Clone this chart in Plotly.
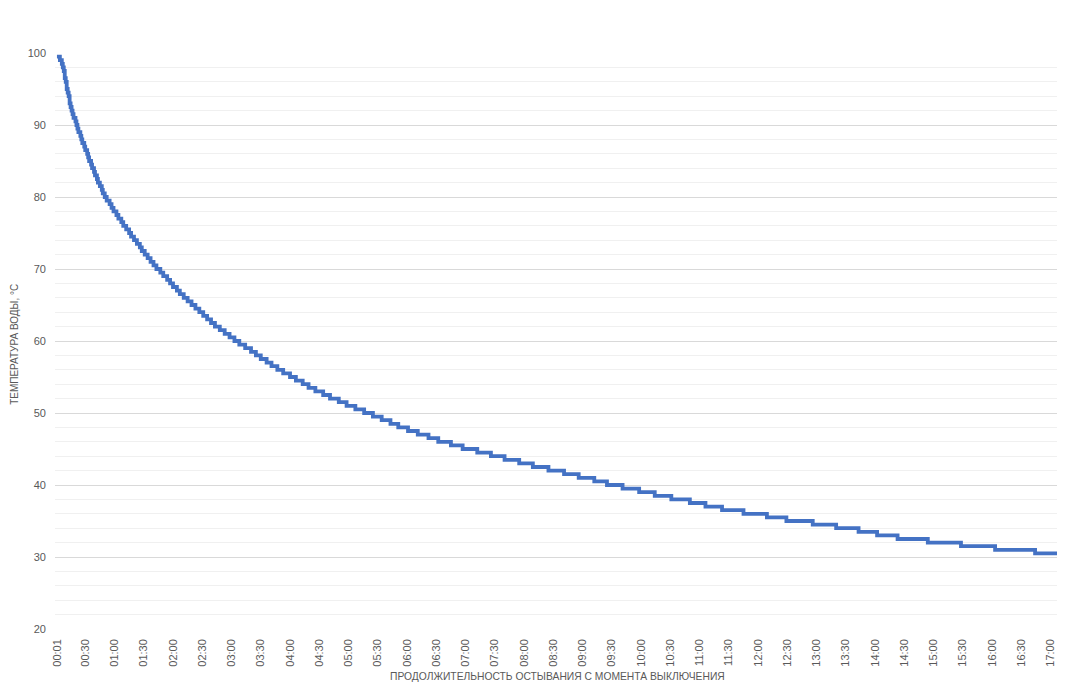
import plotly.graph_objects as go

# Minute (since 00:00) at which the recorded temperature changes, and the new value
minutes = [1, 4, 6, 7, 8, 9, 10, 11, 12, 13, 14, 15, 16, 17, 18, 20, 21, 22, 23, 25,
           26, 27, 29, 30, 32, 33, 34, 36, 37, 39, 40, 42, 43, 45, 47, 48, 50, 52, 55, 57,
           59, 62, 64, 67, 69, 72, 75, 77, 80, 83, 86, 88, 91, 94, 97, 100, 103, 107, 110, 114,
           117, 120, 124, 127, 131, 135, 139, 143, 147, 151, 155, 159, 163, 168, 173, 178, 183, 188, 194, 200,
           205, 210, 216, 221, 227, 233, 240, 246, 253, 259, 266, 274, 281, 290, 298, 307, 316, 325, 334, 343,
           351, 361, 371, 382, 392, 405, 417, 432, 446, 460, 475, 489, 505, 521, 536, 552, 565, 581, 598, 614,
           631, 650, 666, 683, 705, 729, 749, 776, 800, 823, 842, 863, 894, 928, 963, 1004, 1027]
temps = [99.5, 99.0, 98.5, 98.0, 97.5, 96.5, 96.0, 95.0, 94.5, 94.0, 93.0, 92.5, 92.0, 91.5, 91.0, 90.5, 90.0, 89.5, 89.0, 88.5,
         88.0, 87.5, 87.0, 86.5, 86.0, 85.5, 85.0, 84.5, 84.0, 83.5, 83.0, 82.5, 82.0, 81.5, 81.0, 80.5, 80.0, 79.5, 79.0, 78.5,
         78.0, 77.5, 77.0, 76.5, 76.0, 75.5, 75.0, 74.5, 74.0, 73.5, 73.0, 72.5, 72.0, 71.5, 71.0, 70.5, 70.0, 69.5, 69.0, 68.5,
         68.0, 67.5, 67.0, 66.5, 66.0, 65.5, 65.0, 64.5, 64.0, 63.5, 63.0, 62.5, 62.0, 61.5, 61.0, 60.5, 60.0, 59.5, 59.0, 58.5,
         58.0, 57.5, 57.0, 56.5, 56.0, 55.5, 55.0, 54.5, 54.0, 53.5, 53.0, 52.5, 52.0, 51.5, 51.0, 50.5, 50.0, 49.5, 49.0, 48.5,
         48.0, 47.5, 47.0, 46.5, 46.0, 45.5, 45.0, 44.5, 44.0, 43.5, 43.0, 42.5, 42.0, 41.5, 41.0, 40.5, 40.0, 39.5, 39.0, 38.5,
         38.0, 37.5, 37.0, 36.5, 36.0, 35.5, 35.0, 34.5, 34.0, 33.5, 33.0, 32.5, 32.0, 31.5, 31.0, 30.5, 30.5]

tick_minutes = [1, 30, 60, 90, 120, 150, 180, 210, 240, 270, 300, 330, 360, 390, 420, 450, 480, 510,
                540, 570, 600, 630, 660, 690, 720, 750, 780, 810, 840, 870, 900, 930, 960, 990, 1020]
tick_labels = ["00:01", "00:30", "01:00", "01:30", "02:00", "02:30", "03:00", "03:30", "04:00", "04:30",
               "05:00", "05:30", "06:00", "06:30", "07:00", "07:30", "08:00", "08:30", "09:00", "09:30",
               "10:00", "10:30", "11:00", "11:30", "12:00", "12:30", "13:00", "13:30", "14:00", "14:30",
               "15:00", "15:30", "16:00", "16:30", "17:00"]

x_title = "ПРОДОЛЖИТЕЛЬНОСТЬ ОСТЫВАНИЯ С МОМЕНТА ВЫКЛЮЧЕНИЯ"
y_title = "ТЕМПЕРАТУРА ВОДЫ, °С"

FONT = "Liberation Sans"
GREY = "#595959"

fig = go.Figure()
fig.add_trace(go.Scatter(
    x=minutes, y=temps, mode="lines",
    line=dict(color="#4472C4", width=3.8, shape="hv"),
    showlegend=False, hoverinfo="x+y",
))

# the page body has an 8px default margin, so the figure is sized to fill the rest
fig.update_layout(
    width=1057, height=686,
    margin=dict(l=47, r=7, t=45, b=65, autoexpand=False),
    paper_bgcolor="white", plot_bgcolor="white",
    font=dict(family=FONT, size=11, color=GREY),
    annotations=[
        dict(text=x_title, xref="paper", yref="paper", x=0.501, y=-0.0816, yanchor="middle",
             xanchor="center", showarrow=False, font=dict(size=10.3, color=GREY, family=FONT)),
        dict(text=y_title, xref="paper", yref="paper", x=-0.0399, xanchor="center", y=0.495,
             yanchor="middle", textangle=-90, showarrow=False,
             font=dict(size=10, color=GREY, family=FONT)),
    ],
)
fig.update_xaxes(
    range=[-1, 1027.5], automargin=False,
    tickmode="array", tickvals=tick_minutes, ticktext=tick_labels,
    tickangle=-90, tickfont=dict(size=11, color=GREY, family=FONT),
    ticklabelstandoff=7,
    showgrid=False, zeroline=False, showline=False, ticks="",
)
fig.update_yaxes(
    range=[20, 100], dtick=10, tick0=0, automargin=False,
    showgrid=True, gridcolor="#d9d9d9", gridwidth=1,
    minor=dict(dtick=2, tick0=0, showgrid=True, gridcolor="#f0f0f0", gridwidth=1),
    zeroline=False, showline=False, ticks="",
    tickfont=dict(size=11, color=GREY, family=FONT),
    ticklabelstandoff=8,
)

fig.write_html("out.html")
